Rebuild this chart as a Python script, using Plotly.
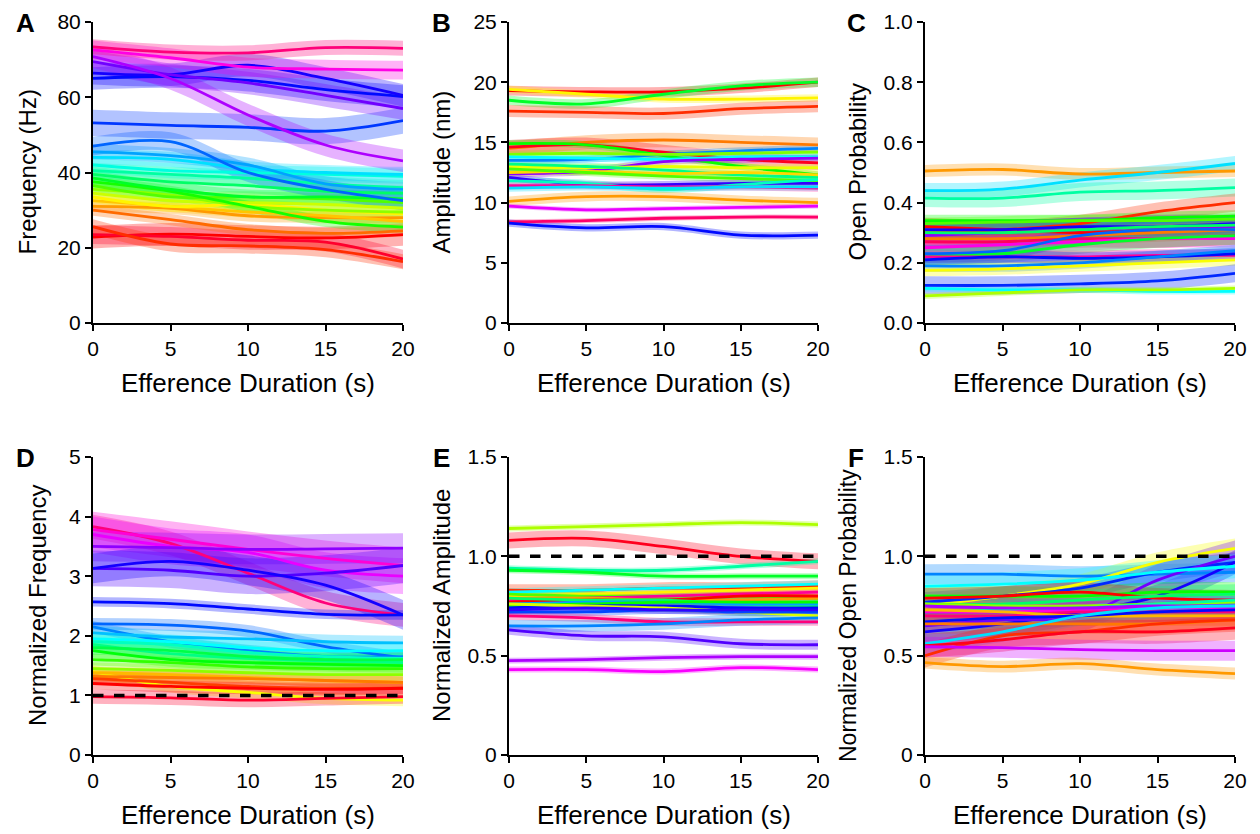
import colorsys
import plotly.graph_objects as go

# sample times (s)
t = [0, 5, 10, 15, 20]

# (hue, values at t, band half-width) per cell
A_lines = [
    (0.00, [22.8, 23.6, 23.0, 22.6, 23.5], 3.0),
    (0.97, [23.5, 23.0, 22.0, 21.5, 17.0], 2.5),
    (0.03, [25.6, 21.0, 20.5, 19.5, 16.3], 2.0),
    (0.07, [30.0, 27.5, 24.8, 23.8, 24.5], 1.5),
    (0.10, [31.0, 30.5, 28.5, 28.0, 28.0], 1.5),
    (0.13, [32.5, 31.0, 29.5, 28.5, 27.0], 1.5),
    (0.16, [33.5, 31.0, 31.5, 30.0, 29.0], 1.5),
    (0.20, [34.5, 32.5, 32.0, 31.5, 30.5], 1.5),
    (0.24, [35.5, 34.0, 31.0, 30.0, 29.5], 1.5),
    (0.28, [36.5, 33.5, 33.5, 33.0, 32.0], 1.5),
    (0.32, [37.5, 35.0, 31.0, 27.0, 25.5], 1.5),
    (0.36, [38.5, 35.5, 33.5, 33.5, 33.0], 2.0),
    (0.40, [39.5, 37.5, 36.5, 35.0, 34.5], 2.0),
    (0.44, [40.5, 39.5, 38.5, 37.0, 36.0], 2.0),
    (0.48, [42.0, 40.5, 40.0, 39.5, 39.0], 2.0),
    (0.52, [44.0, 43.5, 41.0, 40.0, 39.5], 2.0),
    (0.56, [45.5, 44.5, 42.0, 37.0, 35.5], 2.0),
    (0.60, [47.0, 48.2, 40.0, 35.5, 32.5], 2.5),
    (0.63, [53.2, 52.5, 52.0, 51.0, 53.8], 3.5),
    (0.66, [65.0, 65.5, 64.5, 62.0, 60.2], 3.0),
    (0.68, [66.4, 66.0, 68.5, 65.0, 60.5], 3.0),
    (0.74, [69.5, 66.0, 63.8, 60.5, 57.0], 3.0),
    (0.78, [70.8, 65.0, 55.3, 47.3, 43.1], 3.0),
    (0.85, [72.6, 70.5, 68.0, 67.5, 67.2], 2.5),
    (0.92, [73.4, 72.0, 71.8, 73.2, 73.0], 2.0),
]

B_lines = [
    (0.00, [19.3, 19.2, 19.2, 19.5, 20.0], 0.4),
    (0.16, [19.4, 19.0, 18.6, 18.6, 18.7], 0.3),
    (0.36, [18.5, 18.2, 19.0, 19.7, 20.0], 0.4),
    (0.03, [17.6, 17.5, 17.4, 17.8, 18.0], 0.5),
    (0.08, [14.5, 15.0, 15.2, 15.0, 14.8], 0.6),
    (0.98, [14.6, 14.8, 14.2, 13.6, 13.3], 0.6),
    (0.33, [14.9, 14.8, 13.9, 13.0, 12.3], 0.3),
    (0.58, [13.5, 13.6, 14.0, 14.3, 14.5], 0.3),
    (0.25, [14.0, 14.1, 14.0, 14.1, 14.2], 0.3),
    (0.50, [13.8, 13.7, 13.6, 13.8, 13.8], 0.3),
    (0.76, [12.4, 12.6, 13.4, 13.6, 13.7], 0.3),
    (0.18, [13.0, 12.9, 13.0, 12.9, 12.9], 0.3),
    (0.42, [13.2, 13.0, 12.7, 12.3, 12.1], 0.3),
    (0.14, [12.5, 12.6, 12.4, 12.5, 12.3], 0.3),
    (0.28, [12.8, 12.5, 12.2, 12.0, 11.8], 0.3),
    (0.70, [12.1, 11.5, 11.5, 11.6, 11.6], 0.3),
    (0.46, [11.8, 11.6, 11.1, 11.5, 11.9], 0.3),
    (0.90, [11.4, 11.4, 11.3, 11.3, 11.2], 0.3),
    (0.52, [11.2, 11.3, 11.2, 11.3, 11.3], 0.3),
    (0.10, [10.1, 10.5, 10.5, 10.2, 10.0], 0.4),
    (0.82, [9.7, 9.4, 9.5, 9.6, 9.7], 0.2),
    (0.93, [8.4, 8.5, 8.7, 8.8, 8.8], 0.2),
    (0.66, [8.3, 7.9, 8.0, 7.3, 7.3], 0.3),
]

C_lines = [
    (0.10, [0.505, 0.51, 0.495, 0.50, 0.505], 0.02),
    (0.52, [0.44, 0.445, 0.475, 0.50, 0.53], 0.025),
    (0.44, [0.415, 0.415, 0.435, 0.44, 0.45], 0.03),
    (0.03, [0.30, 0.31, 0.33, 0.37, 0.40], 0.03),
    (0.00, [0.32, 0.31, 0.30, 0.31, 0.32], 0.03),
    (0.33, [0.34, 0.34, 0.34, 0.35, 0.355], 0.02),
    (0.28, [0.33, 0.335, 0.34, 0.34, 0.345], 0.02),
    (0.76, [0.29, 0.30, 0.31, 0.32, 0.32], 0.04),
    (0.68, [0.31, 0.31, 0.32, 0.32, 0.33], 0.03),
    (0.40, [0.30, 0.30, 0.31, 0.32, 0.325], 0.03),
    (0.08, [0.28, 0.28, 0.29, 0.30, 0.31], 0.03),
    (0.94, [0.27, 0.27, 0.28, 0.28, 0.29], 0.03),
    (0.85, [0.25, 0.26, 0.27, 0.28, 0.28], 0.03),
    (0.60, [0.23, 0.24, 0.29, 0.31, 0.31], 0.03),
    (0.36, [0.22, 0.23, 0.26, 0.28, 0.29], 0.03),
    (0.90, [0.22, 0.22, 0.22, 0.225, 0.225], 0.02),
    (0.66, [0.21, 0.22, 0.215, 0.22, 0.23], 0.02),
    (0.58, [0.19, 0.19, 0.20, 0.22, 0.24], 0.02),
    (0.17, [0.175, 0.18, 0.19, 0.20, 0.21], 0.02),
    (0.64, [0.125, 0.125, 0.13, 0.14, 0.165], 0.03),
    (0.50, [0.115, 0.11, 0.11, 0.105, 0.105], 0.01),
    (0.22, [0.09, 0.10, 0.11, 0.11, 0.115], 0.01),
]

D_lines = [
    (0.92, [3.83, 3.55, 3.05, 2.55, 2.35], 0.2),
    (0.86, [3.78, 3.62, 3.45, 3.30, 3.18], 0.3),
    (0.82, [3.70, 3.50, 3.40, 3.10, 3.00], 0.3),
    (0.76, [3.50, 3.48, 3.45, 3.46, 3.47], 0.25),
    (0.72, [3.13, 3.10, 3.00, 3.05, 3.18], 0.3),
    (0.68, [3.13, 3.25, 3.10, 2.85, 2.35], 0.25),
    (0.66, [2.57, 2.54, 2.45, 2.36, 2.35], 0.08),
    (0.60, [2.20, 2.18, 2.08, 1.82, 1.63], 0.1),
    (0.58, [2.15, 1.90, 1.75, 1.65, 1.65], 0.1),
    (0.54, [2.05, 1.98, 1.95, 1.90, 1.88], 0.12),
    (0.50, [1.95, 1.90, 1.80, 1.75, 1.75], 0.12),
    (0.46, [1.90, 1.85, 1.72, 1.65, 1.62], 0.12),
    (0.42, [1.85, 1.70, 1.62, 1.58, 1.55], 0.12),
    (0.38, [1.80, 1.75, 1.65, 1.60, 1.60], 0.12),
    (0.34, [1.75, 1.60, 1.55, 1.52, 1.50], 0.12),
    (0.30, [1.60, 1.55, 1.48, 1.45, 1.45], 0.1),
    (0.24, [1.45, 1.42, 1.38, 1.35, 1.35], 0.1),
    (0.17, [1.40, 1.15, 1.05, 0.95, 0.92], 0.1),
    (0.12, [1.38, 1.35, 1.30, 1.25, 1.22], 0.1),
    (0.08, [1.32, 1.30, 1.28, 1.25, 1.22], 0.1),
    (0.04, [1.28, 1.22, 1.15, 1.12, 1.12], 0.1),
    (0.00, [1.20, 1.15, 1.12, 1.10, 1.12], 0.1),
    (0.97, [0.98, 0.96, 0.92, 0.95, 0.98], 0.12),
]

E_lines = [
    (0.22, [1.14, 1.15, 1.16, 1.17, 1.16], 0.015),
    (0.98, [1.08, 1.09, 1.05, 1.00, 0.975], 0.04),
    (0.44, [0.94, 0.93, 0.93, 0.95, 0.975], 0.015),
    (0.36, [0.93, 0.92, 0.90, 0.90, 0.90], 0.015),
    (0.03, [0.83, 0.83, 0.84, 0.84, 0.85], 0.03),
    (0.50, [0.82, 0.83, 0.84, 0.85, 0.86], 0.02),
    (0.16, [0.80, 0.81, 0.82, 0.83, 0.84], 0.02),
    (0.28, [0.81, 0.80, 0.80, 0.80, 0.79], 0.02),
    (0.90, [0.78, 0.79, 0.80, 0.81, 0.82], 0.02),
    (0.10, [0.79, 0.79, 0.78, 0.78, 0.79], 0.02),
    (0.00, [0.77, 0.78, 0.78, 0.80, 0.80], 0.02),
    (0.40, [0.79, 0.78, 0.78, 0.76, 0.75], 0.02),
    (0.56, [0.76, 0.77, 0.77, 0.76, 0.76], 0.02),
    (0.33, [0.75, 0.76, 0.77, 0.77, 0.77], 0.02),
    (0.66, [0.74, 0.75, 0.75, 0.74, 0.74], 0.03),
    (0.19, [0.76, 0.75, 0.74, 0.72, 0.70], 0.02),
    (0.62, [0.72, 0.72, 0.73, 0.72, 0.72], 0.02),
    (0.70, [0.73, 0.74, 0.73, 0.73, 0.73], 0.02),
    (0.92, [0.70, 0.69, 0.67, 0.67, 0.67], 0.02),
    (0.58, [0.65, 0.65, 0.66, 0.68, 0.69], 0.03),
    (0.72, [0.63, 0.60, 0.595, 0.56, 0.555], 0.025),
    (0.78, [0.475, 0.48, 0.49, 0.495, 0.495], 0.015),
    (0.83, [0.43, 0.43, 0.42, 0.44, 0.43], 0.015),
]

F_lines = [
    (0.58, [0.91, 0.91, 0.90, 0.91, 0.92], 0.05),
    (0.17, [0.75, 0.80, 0.86, 0.97, 1.04], 0.05),
    (0.64, [0.77, 0.80, 0.84, 0.92, 0.97], 0.05),
    (0.68, [0.62, 0.66, 0.72, 0.80, 0.97], 0.06),
    (0.74, [0.65, 0.68, 0.70, 0.88, 1.00], 0.08),
    (0.50, [0.85, 0.86, 0.88, 0.92, 0.95], 0.06),
    (0.33, [0.80, 0.80, 0.80, 0.82, 0.82], 0.05),
    (0.00, [0.79, 0.80, 0.82, 0.79, 0.78], 0.05),
    (0.40, [0.76, 0.76, 0.78, 0.80, 0.81], 0.05),
    (0.24, [0.76, 0.75, 0.75, 0.76, 0.77], 0.05),
    (0.44, [0.72, 0.73, 0.74, 0.76, 0.78], 0.05),
    (0.85, [0.72, 0.72, 0.73, 0.74, 0.74], 0.05),
    (0.92, [0.70, 0.70, 0.72, 0.72, 0.72], 0.05),
    (0.78, [0.75, 0.74, 0.74, 0.75, 0.75], 0.05),
    (0.12, [0.73, 0.72, 0.70, 0.70, 0.70], 0.05),
    (0.66, [0.67, 0.69, 0.70, 0.72, 0.73], 0.05),
    (0.08, [0.66, 0.66, 0.66, 0.66, 0.68], 0.05),
    (0.52, [0.56, 0.62, 0.70, 0.74, 0.75], 0.05),
    (0.03, [0.50, 0.60, 0.62, 0.66, 0.68], 0.06),
    (0.98, [0.55, 0.58, 0.62, 0.62, 0.64], 0.06),
    (0.80, [0.545, 0.54, 0.53, 0.525, 0.525], 0.05),
    (0.10, [0.465, 0.445, 0.46, 0.43, 0.41], 0.03),
]

panels = [
    ("A", A_lines, "Frequency (Hz)", [0, 80], [0, 20, 40, 60, 80], ["0", "20", "40", "60", "80"], False),
    ("B", B_lines, "Amplitude (nm)", [0, 25], [0, 5, 10, 15, 20, 25], ["0", "5", "10", "15", "20", "25"], False),
    ("C", C_lines, "Open Probability", [0, 1], [0, 0.2, 0.4, 0.6, 0.8, 1.0], ["0.0", "0.2", "0.4", "0.6", "0.8", "1.0"], False),
    ("D", D_lines, "Normalized Frequency", [0, 5], [0, 1, 2, 3, 4, 5], ["0", "1", "2", "3", "4", "5"], True),
    ("E", E_lines, "Normalized Amplitude", [0, 1.5], [0, 0.5, 1.0, 1.5], ["0", "0.5", "1.0", "1.5"], True),
    ("F", F_lines, "Normalized Open Probability", [0, 1.5], [0, 0.5, 1.0, 1.5], ["0", "0.5", "1.0", "1.5"], True),
]

W, H = 1260, 834
# plot-area pixel boxes (left, right, top, bottom)
boxes = [
    (93, 403, 22, 323), (509, 818, 22, 323), (925, 1235, 22, 323),
    (93, 403, 457, 755), (509, 818, 457, 755), (925, 1235, 457, 755),
]
ytitle_x = [27, 441, 857, 37, 441, 848]
ytitle_dy = [0, 0, 0, 0, 0, 10]
ytitle_size = [24, 24, 24, 24, 24, 23]
letter_x = [25, 441, 856, 25, 441, 856]

FONT = "Arial, Liberation Sans, sans-serif"


def hue_rgb(h):
    r, g, b = colorsys.hsv_to_rgb(h % 1.0, 1.0, 1.0)
    return int(r * 255), int(g * 255), int(b * 255)


fig = go.Figure()
layout = dict(
    width=W, height=H, margin=dict(l=0, r=0, t=0, b=0, autoexpand=False),
    paper_bgcolor="white", plot_bgcolor="white", showlegend=False,
    font=dict(family=FONT, size=21, color="black"),
)
annotations = []

for i, (letter, lines, ytitle, yr, tv, tt, ref) in enumerate(panels):
    n = i + 1
    xa = "x" if n == 1 else f"x{n}"
    ya = "y" if n == 1 else f"y{n}"
    l, r, tp, bt = boxes[i]
    axis_common = dict(
        showline=True, linecolor="black", linewidth=2, mirror=False,
        ticks="outside", ticklen=6, tickwidth=2, tickcolor="black",
        showgrid=False, zeroline=False, automargin=False,
        tickfont=dict(size=21, family=FONT),
    )
    layout[f"xaxis{'' if n == 1 else n}"] = dict(
        axis_common, domain=[l / W, r / W], range=[0, 20],
        tickvals=[0, 5, 10, 15, 20], anchor=ya,
    )
    layout[f"yaxis{'' if n == 1 else n}"] = dict(
        axis_common, domain=[1 - bt / H, 1 - tp / H], range=yr,
        tickvals=tv, ticktext=tt, anchor=xa,
    )

    # shaded bands first
    for h, vals, w in lines:
        rr, gg, bb = hue_rgb(h)
        fill = f"rgba({rr},{gg},{bb},0.3)"
        fig.add_trace(go.Scatter(
            x=t, y=[v + w for v in vals], xaxis=xa, yaxis=ya,
            mode="lines", line=dict(width=0, shape="spline", smoothing=1.0),
            hoverinfo="skip"))
        fig.add_trace(go.Scatter(
            x=t, y=[v - w for v in vals], xaxis=xa, yaxis=ya,
            mode="lines", line=dict(width=0, shape="spline", smoothing=1.0),
            fill="tonexty", fillcolor=fill, hoverinfo="skip"))
    # mean traces on top
    for h, vals, w in lines:
        rr, gg, bb = hue_rgb(h)
        fig.add_trace(go.Scatter(
            x=t, y=vals, xaxis=xa, yaxis=ya, mode="lines",
            line=dict(color=f"rgb({rr},{gg},{bb})", width=2.8,
                      shape="spline", smoothing=1.0)))
    if ref:
        fig.add_trace(go.Scatter(
            x=[0, 20], y=[1, 1], xaxis=xa, yaxis=ya, mode="lines",
            line=dict(color="black", width=3.5, dash="dash")))

    # axis titles and panel letter
    annotations.append(dict(
        text="Efference Duration (s)", x=(l + r) / 2 / W, y=1 - (bt + 60) / H,
        xref="paper", yref="paper", showarrow=False,
        font=dict(size=26, family=FONT), xanchor="center", yanchor="middle"))
    annotations.append(dict(
        text=ytitle, x=ytitle_x[i] / W,
        y=1 - ((tp + bt) / 2 + ytitle_dy[i]) / H,
        xref="paper", yref="paper", showarrow=False, textangle=-90,
        font=dict(size=ytitle_size[i], family=FONT),
        xanchor="center", yanchor="middle"))
    annotations.append(dict(
        text=f"<b>{letter}</b>", x=letter_x[i] / W, y=1 - (tp + 1) / H,
        xref="paper", yref="paper", showarrow=False,
        font=dict(size=26, family=FONT), xanchor="center", yanchor="middle"))

layout["annotations"] = annotations
fig.update_layout(**layout)
fig.write_html("out.html")
